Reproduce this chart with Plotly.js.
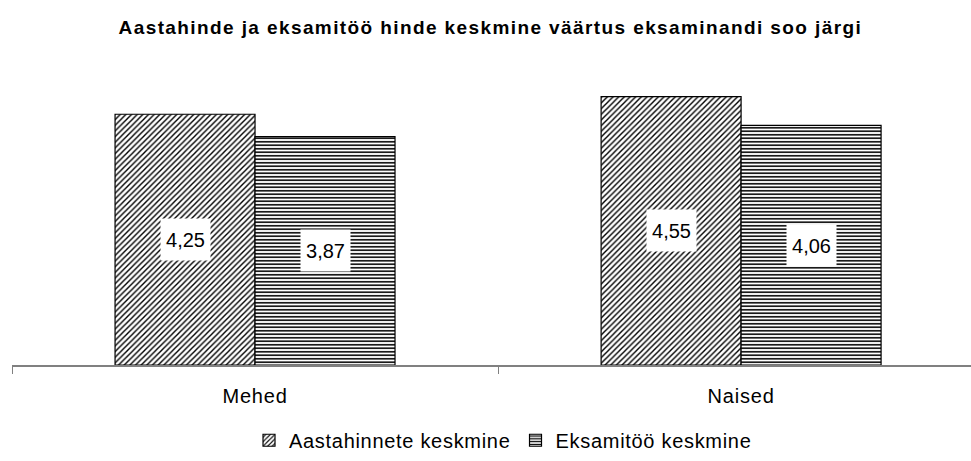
<!DOCTYPE html>
<html>
<head>
<meta charset="utf-8">
<script src="https://cdn.plot.ly/plotly-3.0.1.min.js"></script>
<style>
html,body{margin:0;padding:0;background:#fff;overflow:hidden}
.gtitle{letter-spacing:1.4px}
.legendtext{letter-spacing:0.7px}
.xtick text{letter-spacing:0.8px}
</style>
</head>
<body>
<div id="chart" style="width:971px;height:461px"></div>
<script>
const categories = ["Mehed", "Naised"];
const seriesNames = ["Aastahinnete keskmine", "Eksamitöö keskmine"];
const aastahinne = [4.25, 4.55];
const eksamitoo = [3.87, 4.06];
const labelFmt = v => v.toFixed(2).replace(".", ",");

const font = "Liberation Sans, Arial, sans-serif";

const traces = [
  {
    type: "bar", name: seriesNames[0], x: categories, y: aastahinne,
    marker: {color: "#ffffff", line: {color: "#000000", width: 1.2},
      pattern: {shape: "/", fgcolor: "#000000", bgcolor: "#ffffff", size: 4, solidity: 0.35}},
    hoverinfo: "skip"
  },
  {
    type: "bar", name: seriesNames[1], x: categories, y: eksamitoo,
    marker: {color: "#ffffff", line: {color: "#000000", width: 1.2},
      pattern: {shape: "-", fgcolor: "#000000", bgcolor: "#ffffff", size: 3.5, solidity: 0.45}},
    hoverinfo: "skip"
  }
];

const annotations = [];
[aastahinne, eksamitoo].forEach((arr, si) => {
  arr.forEach((v, ci) => {
    annotations.push({
      x: categories[ci], y: v / 2, xref: "x", yref: "y",
      text: labelFmt(v), showarrow: false,
      xshift: si === 0 ? -70 : 70,
      bgcolor: "#ffffff", width: 47, height: 39,
      font: {family: font, size: 20, color: "#000000"}
    });
  });
});

const layout = {
  width: 971, height: 461,
  margin: {l: 12, r: 0, t: 70, b: 96},
  paper_bgcolor: "#ffffff", plot_bgcolor: "#ffffff",
  title: {text: "<b>Aastahinde ja eksamitöö hinde keskmine väärtus eksaminandi soo järgi</b>",
    font: {family: font, size: 19, color: "#000000"}, x: 0.505, xanchor: "center", y: 0.94, yanchor: "middle"},
  barmode: "group", bargap: 0.424, bargroupgap: 0,
  xaxis: {type: "category", range: [-0.5, 1.473], showline: true, linecolor: "#808080", linewidth: 1.5,
    ticks: "outside", tickson: "boundaries", ticklen: 7, tickcolor: "#808080", tickwidth: 1,
    ticklabelstandoff: 12,
    showgrid: false, zeroline: false, fixedrange: true,
    tickfont: {family: font, size: 20, color: "#000000"}},
  yaxis: {range: [0, 5], visible: false, showgrid: false, zeroline: false, fixedrange: true},
  showlegend: true,
  legend: {orientation: "h", x: 0.512, xanchor: "center", y: -0.255, yanchor: "middle",
    font: {family: font, size: 20, color: "#000000"}, itemwidth: 30, tracegroupgap: 0},
  annotations: annotations
};

Plotly.newPlot("chart", traces, layout, {displayModeBar: false, staticPlot: true});
</script>
</body>
</html>
